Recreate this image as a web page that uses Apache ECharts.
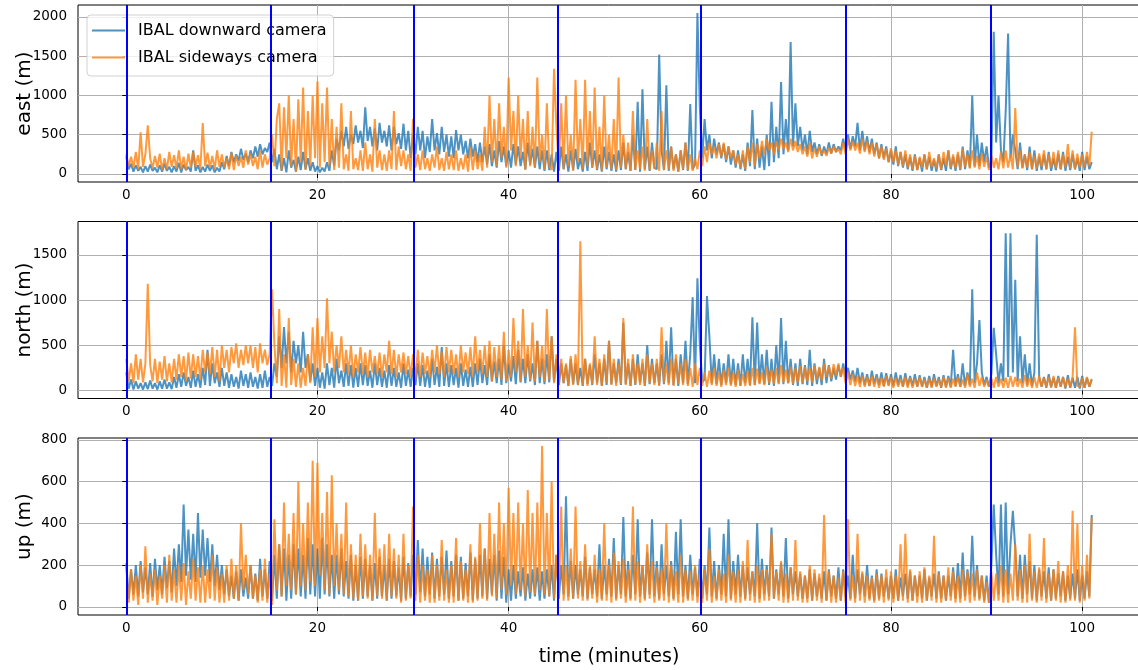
<!DOCTYPE html>
<html><head><meta charset="utf-8">
<script src="https://cdn.jsdelivr.net/npm/echarts@6/dist/echarts.min.js"></script>
<style>html,body{margin:0;padding:0;background:#fff}#c{width:1138px;height:670px}</style>
</head><body><div id="c"></div>
<script>
const sampleStepMinutes = 0.25;

const eastDown = [
220,60,130,30, 110,40,90,20, 100,30,120,40, 80,20,110,30, 130,40,90,20, 100,30,140,20, 120,50,90,30, 300,40,110,20, 90,30,120,40, 110,20,80,30,
150,60,230,100, 280,150,250,170, 320,180,260,150, 300,200,350,220, 380,250,330,280, 400,150,320,60, 250,40,200,20, 300,80,180,30, 220,50,280,60, 200,40,150,30,
100,20,80,30, 150,40,300,100, 450,300,550,350, 600,320,500,380, 620,400,550,330, 850,420,600,350, 580,300,650,400, 550,350,620,300, 600,380,520,320, 640,300,550,200,
500,250,600,300, 550,200,480,280, 700,300,520,250, 600,280,500,220, 480,200,560,300, 500,250,420,200, 450,220,380,150, 400,150,350,120, 380,100,300,80, 420,150,350,100,
300,80,380,120, 350,100,280,60, 400,120,320,80, 350,60,300,40, 300,50,250,30, 280,40,350,60, 250,30,300,50, 320,60,200,30, 280,40,400,80, 300,50,250,30,
350,60,280,40, 250,30,300,50, 400,60,280,40, 500,50,920,30, 1080,60,350,40, 400,80,60,1520, 300,50,1130,40, 350,60,250,30, 300,50,400,40, 890,60,120,2050,
850,200,700,300, 500,200,450,250, 400,200,380,150, 350,120,300,80, 300,60,250,40, 400,100,815,60, 450,80,350,50, 500,100,920,150, 600,200,1170,250, 700,300,1680,350,
900,350,600,300, 500,250,550,280, 400,250,380,230, 350,250,400,260, 380,280,350,300, 450,300,500,320, 480,350,650,300, 550,300,480,280, 450,250,400,200, 380,200,350,150,
300,120,350,100, 280,80,250,60, 220,40,250,50, 200,30,250,60, 220,40,180,30, 250,50,200,40, 300,60,220,40, 250,50,350,60, 300,80,1000,100, 500,100,400,150,
350,80,150,1810, 400,1000,300,150, 800,1790,200,500, 300,60,400,80, 250,50,350,60, 300,40,220,50, 250,60,280,40, 200,50,260,60, 280,40,220,50, 250,60,200,40,
280,50,220,60, 150
];
const eastSide = [
250,100,220,80, 280,60,530,90, 250,620,200,70, 230,80,260,50, 200,60,280,90, 240,70,300,60, 220,50,260,80, 280,90,240,60, 650,100,270,80, 230,60,300,90,
250,80,200,60, 270,50,240,100, 220,80,300,120, 260,100,220,60, 300,80,250,120, 200,500,100,700, 900,50,850,200, 1000,100,700,30, 950,150,1100,50, 800,100,1000,200,
1180,80,900,150, 1100,100,700,50, 600,80,900,60, 250,40,800,60, 200,50,300,40, 400,60,250,30, 700,80,300,50, 250,40,300,60, 800,50,350,100, 300,60,250,40,
700,80,250,50, 300,60,200,40, 250,80,350,50, 200,40,280,60, 250,50,300,40, 200,60,250,30, 350,50,300,60, 250,40,600,80, 1000,150,700,100, 900,200,600,80,
1230,300,800,100, 1000,200,700,50, 800,100,600,80, 1230,150,500,60, 900,100,50,1340, 600,80,900,60, 1000,100,500,40, 1200,150,700,60, 1200,100,800,80, 1100,60,600,40,
1000,80,500,60, 700,50,1230,80, 500,60,400,40, 800,50,300,60, 350,40,700,50, 300,60,400,40, 800,50,300,60, 350,40,250,30, 300,60,400,50, 250,40,200,60,
300,100,350,150, 400,250,350,200, 380,220,400,180, 350,200,300,120, 250,80,300,60, 350,150,400,100, 380,200,420,250, 450,300,400,250, 420,300,450,320, 400,280,450,300,
420,280,380,250, 350,220,400,200, 330,220,350,250, 300,230,340,260, 350,280,320,250, 400,250,450,300, 420,300,400,260, 450,280,420,250, 400,220,380,200, 350,180,320,150,
330,150,300,120, 280,100,300,80, 250,60,230,50, 220,80,250,60, 280,90,200,70, 250,60,280,100, 300,80,250,70, 280,60,320,90, 250,70,300,80, 230,60,260,90,
220,50,250,80, 200,60,280,70, 300,80,250,60, 840,90,300,70, 250,80,280,60, 230,70,260,90, 300,60,250,80, 280,70,300,60, 250,80,380,70, 300,60,260,80,
250,90,280,100, 540
];
const northDown = [
200,20,120,10, 100,20,80,10, 90,15,110,20, 80,10,100,20, 120,20,90,15, 150,30,180,40, 200,50,150,30, 220,40,180,30, 250,60,450,50, 300,80,200,40,
250,50,200,30, 180,40,150,20, 220,50,180,30, 200,40,150,20, 180,30,220,40, 150,50,300,150, 600,250,700,300, 650,200,550,300, 500,200,650,250, 400,100,300,50,
250,30,200,20, 300,60,250,30, 350,80,220,40, 300,50,280,30, 250,40,300,60, 280,50,220,30, 300,60,250,40, 220,30,280,50, 250,40,200,30, 300,50,230,40,
250,60,300,50, 280,40,220,30, 350,60,260,40, 480,50,300,40, 280,60,250,30, 300,50,230,40, 260,40,300,60, 350,80,280,60, 400,100,320,80, 350,60,500,80,
300,100,380,70, 450,90,350,80, 400,100,300,60, 550,80,350,70, 400,90,600,100, 350,60,300,80, 280,50,350,70, 300,60,250,50, 350,70,280,60, 400,80,300,50,
350,60,550,70, 300,80,350,60, 750,70,300,50, 350,60,400,80, 300,50,500,70, 350,80,300,60, 400,70,550,80, 700,60,350,50, 400,80,550,70, 400,1030,80,1240,
500,100,120,1045, 600,80,400,70, 350,60,300,80, 400,70,350,60, 300,50,400,80, 350,60,809,60, 750,80,400,70, 450,60,350,50, 500,80,800,70, 550,80,350,60,
300,50,350,70, 280,60,450,50, 300,70,250,60, 350,80,280,100, 250,120,280,150, 300,150,250,120, 220,100,250,80, 200,60,180,50, 220,70,180,60, 200,50,190,60,
180,50,200,60, 170,40,190,50, 160,50,180,40, 170,40,150,30, 160,40,180,50, 150,30,170,40, 160,40,450,50, 180,40,300,50, 200,60,1120,80, 300,780,200,60,
150,40,180,694, 400,80,300,100, 1740,150,1740,200, 1223,100,600,80, 400,60,300,50, 200,1722,150,40, 150,30,180,40, 140,30,160,40, 150,20,170,30, 140,30,150,20,
160,30,140,40, 120
];
const northSide = [
350,100,300,80, 400,120,350,90, 300,1180,280,100, 350,80,320,120, 380,100,300,90, 350,120,400,150, 380,100,420,130, 400,150,380,120, 450,200,420,180, 480,150,450,100,
500,250,450,200, 480,300,520,250, 450,280,500,300, 500,250,480,200, 520,300,450,280, 400,1120,500,80, 900,50,400,30, 800,60,350,40, 300,30,250,50, 400,80,700,150,
800,200,600,250, 1020,300,650,200, 500,250,600,200, 450,180,500,150, 400,200,480,180, 420,150,450,200, 380,180,420,150, 400,200,550,180, 450,150,400,200, 420,180,380,150,
400,120,450,150, 420,180,380,150, 450,200,500,180, 430,150,480,200, 450,180,400,150, 500,200,420,180, 480,150,600,200, 450,180,500,150, 550,100,480,150, 500,120,650,100,
450,150,800,200, 550,100,900,150, 500,120,750,100, 550,150,500,100, 900,120,600,80, 400,60,350,80, 300,50,380,60, 400,60,1650,60, 350,50,300,70, 600,60,350,50,
400,80,550,60, 350,50,300,70, 800,60,350,50, 400,70,300,60, 350,50,400,80, 300,60,350,50, 700,80,300,60, 350,50,400,70, 300,60,350,50, 250,40,300,60,
250,50,200,40, 220,60,250,50, 200,40,230,60, 250,50,200,40, 230,60,180,50, 220,50,250,60, 240,70,200,60, 260,80,230,70, 250,70,280,90, 230,80,260,70,
250,90,270,80, 260,100,250,90, 280,120,260,110, 300,150,270,130, 290,160,300,150, 250,80,200,60, 180,50,160,40, 170,40,150,50, 160,40,150,30, 140,40,160,50,
150,30,140,40, 130,40,150,30, 140,30,130,40, 150,40,120,30, 130,30,140,40, 120,40,150,30, 140,30,130,40, 150,40,120,30, 180,40,130,30, 200,50,150,40,
120,40,140,30, 150,40,130,30, 140,30,160,40, 150,40,130,30, 170,40,140,30, 150,30,160,40, 140,40,150,30, 160,30,140,40, 150,40,130,30, 150,700,50,40,
140,30,150,40, 130
];
const upDown = [
210,40,180,60, 200,50,220,70, 190,60,210,50, 230,80,200,60, 240,90,220,70, 280,100,300,120, 490,150,370,130, 350,120,450,140, 370,150,330,120, 300,100,250,80,
200,60,180,50, 150,40,170,30, 180,50,140,40, 200,40,160,30, 230,50,180,40, 220,30,250,40, 300,50,280,30, 250,40,300,60, 280,50,250,40, 330,60,300,50,
280,40,330,60, 300,50,250,40, 250,60,280,50, 220,40,250,30, 200,30,240,40, 230,50,200,30, 210,40,240,50, 200,30,230,40, 220,50,190,30, 240,40,210,50,
250,60,320,70, 280,50,240,60, 260,40,230,50, 240,60,270,40, 220,50,250,30, 240,40,210,50, 260,30,230,40, 250,50,280,40, 230,60,250,30, 270,40,240,20,
180,30,200,40, 170,50,190,30, 160,40,180,50, 190,30,170,40, 180,50,200,30, 250,40,200,60, 530,50,220,40, 200,60,180,50, 240,40,190,60, 180,50,300,40,
200,60,230,50, 330,40,200,60, 430,50,220,40, 250,60,420,50, 200,40,260,60, 420,50,220,40, 300,60,200,50, 220,40,360,60, 420,50,200,40, 250,60,190,50,
230,40,200,60, 380,50,220,40, 200,60,350,50, 420,40,220,60, 250,50,200,40, 190,60,170,50, 400,40,230,60, 200,50,380,40, 180,60,210,50, 330,40,190,60,
170,50,160,40, 150,40,180,30, 160,50,140,40, 170,30,180,50, 150,40,190,30, 180,50,150,40, 250,40,180,60, 160,50,200,40, 150,30,180,40, 160,50,140,40,
150,40,180,30, 140,50,160,40, 170,30,150,50, 150,40,180,30, 140,50,160,40, 170,40,150,30, 150,50,190,40, 210,40,260,50, 180,60,340,50, 200,40,150,30,
150,20,200,490, 250,60,490,50, 500,60,300,460, 280,50,250,40, 250,60,220,40, 200,30,180,50, 170,40,190,30, 180,40,160,50, 170,30,150,40, 160,40,180,30,
150,40,170,50, 440
];
const upSide = [
200,20,180,30, 150,10,200,40, 290,20,160,30, 180,10,150,40, 200,20,250,30, 180,20,200,30, 210,10,170,40, 230,30,190,20, 200,20,180,40, 250,30,190,20,
160,20,200,30, 230,40,200,30, 400,80,250,60, 200,40,150,20, 180,30,230,20, 160,10,420,80, 300,50,500,100, 350,80,450,60, 600,100,400,80, 500,120,700,100,
690,150,450,80, 550,60,630,100, 400,80,350,60, 500,50,300,40, 250,30,350,50, 300,40,250,30, 450,50,280,40, 300,30,350,50, 280,40,250,20, 350,30,200,40,
480,30,250,20, 200,30,180,20, 250,20,200,30, 320,30,180,20, 200,20,330,30, 220,30,180,20, 300,20,240,30, 400,40,280,30, 450,50,350,40, 500,80,400,60,
570,100,450,60, 500,80,400,50, 560,70,450,60, 500,80,770,60, 450,50,600,40, 250,40,480,30, 200,30,280,40, 480,40,220,30, 300,30,200,40, 250,20,180,30,
400,30,200,20, 260,30,220,40, 230,20,180,30, 480,30,220,20, 200,30,300,40, 220,20,190,30, 180,30,400,20, 200,30,170,20, 250,20,180,30, 170,30,200,20,
160,20,180,30, 280,20,150,30, 180,30,160,20, 250,30,170,20, 180,20,220,30, 320,30,170,20, 200,20,180,30, 180,30,350,40, 170,30,220,20, 160,20,190,30,
320,30,170,20, 150,20,200,30, 180,30,160,20, 440,30,170,20, 150,20,140,30, 170,20,420,30, 150,20,350,30, 170,20,150,30, 140,20,160,30, 150,20,180,30,
170,20,150,30, 300,30,350,20, 180,30,150,20, 170,20,190,30, 150,30,340,20, 160,20,150,30, 190,30,170,20, 150,20,180,30, 170,20,160,30, 180,30,150,20,
120,20,170,30, 160,30,200,20, 180,20,160,30, 300,30,180,20, 200,20,350,30, 170,20,190,30, 330,20,160,30, 180,30,220,20, 170,20,200,30, 460,30,400,20,
200,30,250,40, 430
];

const segmentBoundaries = [0, 15.1, 30.05, 45.1, 60.15, 75.25, 90.4];
const xTicks = [0, 20, 40, 60, 80, 100];
const yTicks = [[0, 500, 1000, 1500, 2000], [0, 500, 1000, 1500], [0, 200, 400, 600, 800]];
const panelNames = ['east (m)', 'north (m)', 'up (m)'];
const seriesNames = ['IBAL downward camera', 'IBAL sideways camera'];
const panelData = [[eastDown, eastSide], [northDown, northSide], [upDown, upSide]];
const yRanges = [[-102.5, 2152.5], [-89, 1869], [-38.5, 808.5]];
const xRange = [-5.05, 106.05];

const colors = ['rgba(31,119,180,0.8)', 'rgba(255,127,14,0.8)'];
const font = 'DejaVu Sans';
const gridTops = [5, 221.5, 438];

const toPairs = arr => arr.map((v, i) => [i * sampleStepMinutes, v]);

const grids = gridTops.map(t => ({
  left: 78, top: t, width: 1062, height: 177, containLabel: false, outerBoundsMode: 'none',
  show: true, borderColor: '#000', borderWidth: 1, backgroundColor: 'transparent'
}));

const xAxes = gridTops.map((t, i) => ({
  type: 'value', gridIndex: i, min: xRange[0], max: xRange[1],
  axisLine: { show: false },
  axisTick: { show: true, length: 4, customValues: xTicks, lineStyle: { color: '#000', width: 1 } },
  axisLabel: { fontSize: 13.5, color: '#000', fontFamily: font, margin: 6, customValues: xTicks, formatter: v => String(v) },
  splitLine: { show: true, lineStyle: { color: '#b0b0b0', width: 1 } },
  name: i === 2 ? 'time (minutes)' : '',
  nameLocation: 'middle', nameGap: 33, nameMoveOverlap: false,
  nameTextStyle: { fontSize: 19, color: '#000', fontFamily: font }
}));

const yAxes = gridTops.map((t, i) => ({
  type: 'value', gridIndex: i, min: yRanges[i][0], max: yRanges[i][1],
  axisLine: { show: false },
  axisTick: { show: true, length: 4, customValues: yTicks[i], lineStyle: { color: '#000', width: 1 } },
  axisLabel: { fontSize: 13.5, color: '#000', fontFamily: font, margin: 11, customValues: yTicks[i], formatter: v => String(v) },
  splitLine: { show: true, lineStyle: { color: '#b0b0b0', width: 1 } },
  name: panelNames[i], nameLocation: 'middle', nameGap: 43, nameMoveOverlap: false,
  nameTextStyle: { fontSize: 20, color: '#000', fontFamily: font }
}));

const series = [];
panelData.forEach((pair, p) => {
  pair.forEach((arr, s) => {
    const ser = {
      name: seriesNames[s], type: 'line', xAxisIndex: p, yAxisIndex: p,
      data: toPairs(arr), symbol: 'none', showSymbol: false,
      lineStyle: { width: 2, color: colors[s] }, itemStyle: { color: colors[s] },
      animation: false, silent: true, z: 2 + s
    };
    if (s === 1) {
      ser.markLine = {
        silent: true, symbol: ['none', 'none'], animation: false,
        label: { show: false },
        lineStyle: { color: '#0000ff', width: 2, type: 'solid', opacity: 1 },
        emphasis: { disabled: true },
        data: segmentBoundaries.map(v => ({ xAxis: v }))
      };
    }
    series.push(ser);
  });
});

const chart = echarts.init(document.getElementById('c'), null, { renderer: 'canvas' });
chart.setOption({
  animation: false,
  backgroundColor: '#fff',
  grid: grids, xAxis: xAxes, yAxis: yAxes,
  legend: {
    data: seriesNames.map((n, s) => ({ name: n, icon: 'rect', itemStyle: { color: colors[s] } })),
    orient: 'vertical', left: 87, top: 15,
    itemWidth: 33, itemHeight: 2, itemGap: 8,
    padding: [6, 7, 9, 5],
    backgroundColor: 'rgba(255,255,255,0.8)',
    borderColor: 'rgba(204,204,204,0.9)', borderWidth: 1, borderRadius: 4,
    textStyle: { fontSize: 16, color: '#000', fontFamily: font, lineHeight: 19, padding: [0, 0, 0, 8] },
    selectedMode: false
  },
  series: series
});
</script></body></html>
